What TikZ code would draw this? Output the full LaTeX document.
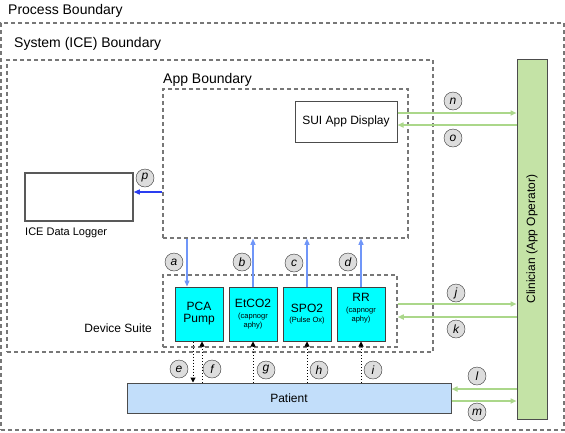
\documentclass[tikz,border=0pt]{standalone}
\usepackage{fontspec}
\setmainfont{Liberation Sans}
\usetikzlibrary{arrows.meta,positioning}
\definecolor{bndgray}{HTML}{777777}
\definecolor{devcyan}{HTML}{00FFFF}
\definecolor{patblue}{HTML}{C2DEFA}
\definecolor{clingreen}{HTML}{C4E3A6}
\definecolor{linkgreen}{HTML}{ABD78A}
\definecolor{linkblue}{HTML}{7096F8}
\definecolor{logblue}{HTML}{2A3DF0}
\definecolor{tagfill}{HTML}{DDDDDD}
\newcommand{\devnote}[1]{{\fontsize{7.5}{8}\selectfont #1}}
\begin{document}
\begin{tikzpicture}[
    x=1pt, y=-1pt,
    font=\fontsize{12}{14}\selectfont,
    boundary/.style={draw=bndgray, line width=1.5pt, dash pattern=on 4pt off 3pt, inner sep=0},
    bndlabel/.style={anchor=base west, inner sep=0, font=\fontsize{14}{16}\selectfont},
    box/.style={draw=black!70, line width=1pt, inner sep=0, align=center},
    dev/.style={box, fill=devcyan, draw=black!75, minimum width=48pt, minimum height=54pt, font=\fontsize{12}{12}\selectfont},
    tag/.style={circle, draw=black!80, fill=tagfill, minimum size=18pt, inner sep=0, font=\fontsize{12}{12}\selectfont\itshape},
    green link/.style={draw=linkgreen, line width=1.5pt, -{Triangle[length=6pt,width=5pt]}},
    blue link/.style={draw=linkblue, line width=1.2pt, -{Triangle[length=6pt,width=5pt]}},
    wire/.style={draw=black, line width=1pt, dotted, -{Triangle[length=5pt,width=5pt]}}
]
\fill[white] (0,0) rectangle (565,432);
\node[boundary, minimum width=563pt, minimum height=407pt] (process) at (282.5,226.5) {};
\node[boundary, minimum width=426pt, minimum height=292pt] (system) at (220,206) {};
\node[boundary, minimum width=245pt, minimum height=149pt] (app) at (285.5,163.5) {};
\node[boundary, minimum width=234pt, minimum height=72pt] (suite) at (280,311) {};
\node[bndlabel] (processlbl) at (8,14) {Process Boundary};
\node[bndlabel] (systemlbl) at (14,47) {System (ICE) Boundary};
\node[bndlabel] (applbl) at (163,83) {App Boundary};
\node[anchor=base east, inner sep=0] (suitelbl) at (152,332) {Device Suite};
\node[anchor=base west, inner sep=0, font=\fontsize{11}{13}\selectfont] (loggerlbl) at (25,235) {ICE Data Logger};

\node[box, minimum width=102pt, minimum height=41pt] (sui) at (346,121.5) {SUI App Display};
\node[box, draw=black!65, line width=1.5pt, minimum width=108pt, minimum height=48pt] (logger) at (79,197) {};
\node[dev] (pca) at (199,314) {PCA\\Pump};
\node[dev] (etco) at (253,314) {EtCO2\\[-1pt]\devnote{(capnogr}\\[-3pt]\devnote{aphy)}};
\node[dev] (spo) at (307,314) {SPO2\\[-2pt]\devnote{(Pulse Ox)}};
\node[dev, text depth=13pt] (rr) at (361,314) {RR\\[-1pt]\devnote{(capnogr}\\[-3pt]\devnote{aphy)}};
\node[box, fill=patblue, minimum width=324pt, minimum height=30pt] (patient) at (289,398) {Patient};
\node[box, fill=clingreen, minimum width=30pt, minimum height=360pt] (clinician) at (532,239) {};
\node[rotate=90] (clinlbl) at (clinician) {Clinician (App Operator)};

\draw[blue link] ([xshift=-12pt]pca.north |- app.south) -- ([xshift=-12pt]pca.north);
\draw[blue link] (etco.north) -- (etco.north |- app.south);
\draw[blue link] (spo.north) -- (spo.north |- app.south);
\draw[blue link] (rr.north) -- (rr.north |- app.south);
\draw[blue link, draw=logblue] ([yshift=5pt]logger.east -| app.west) -- ([yshift=5pt]logger.east);

\draw[wire] ([xshift=-6pt]pca.south) -- ([xshift=-6pt]pca.south |- patient.north);
\draw[wire] ([xshift=3pt]pca.south |- patient.north) -- ([xshift=3pt]pca.south);
\draw[wire] (etco.south |- patient.north) -- (etco.south);
\draw[wire] (spo.south |- patient.north) -- (spo.south);
\draw[wire] (rr.south |- patient.north) -- (rr.south);

\draw[green link] ([yshift=8.5pt]sui.east) -- ([yshift=8.5pt]sui.east -| clinician.west);
\draw[green link] ([yshift=-3.5pt]sui.east -| clinician.west) -- ([yshift=-3.5pt]sui.east);
\draw[green link] ([yshift=7pt]suite.east) -- ([yshift=7pt]suite.east -| clinician.west);
\draw[green link] ([yshift=-6pt]suite.east -| clinician.west) -- ([yshift=-6pt]suite.east);
\draw[green link] ([yshift=9pt]patient.east -| clinician.west) -- ([yshift=9pt]patient.east);
\draw[green link] ([yshift=-3pt]patient.east) -- ([yshift=-3pt]patient.east -| clinician.west);

\foreach \l/\x/\y in {a/174/262, b/242/262, c/294/263, d/348/262, e/179/369, f/212/369, g/266/370, h/319/370, i/373/370, j/456/293, k/456/329, l/477/376, m/477/412, n/453/101, o/453/138, p/145/178}
    \node[tag] (tag\l) at (\x,\y) {\l};
\end{tikzpicture}
\end{document}
